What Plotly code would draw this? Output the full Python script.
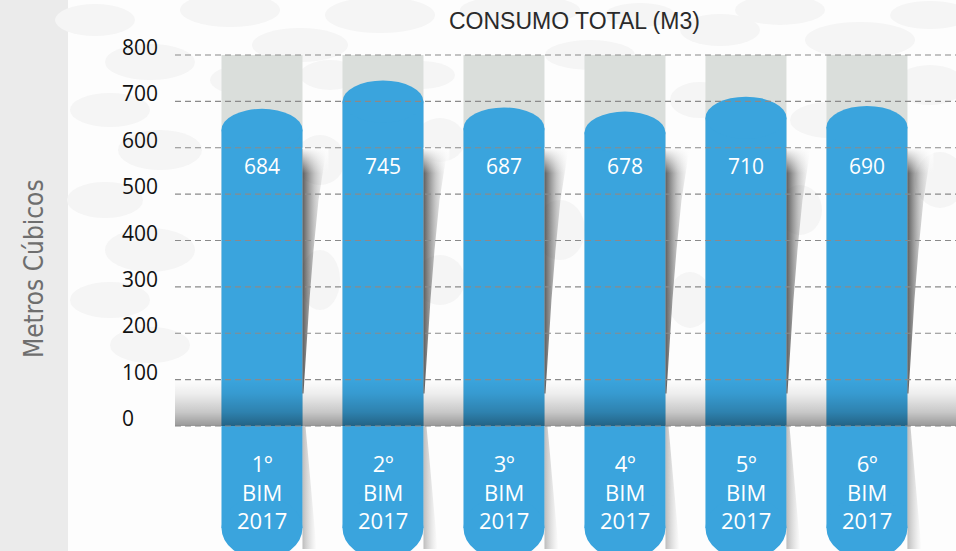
import plotly.graph_objects as go

# ---- data -------------------------------------------------------------
periodos = ["1º", "2º", "3º", "4º", "5º", "6º"]
anio = "2017"
consumo = [684, 745, 687, 678, 710, 690]
escala_max = 800
y_ticks = [0, 100, 200, 300, 400, 500, 600, 700, 800]
y_tick_labels = ["0", "100", "200", "300", "400", "500", "600", "700", "800"]
titulo = "CONSUMO TOTAL (M3)"
titulo_eje_y = "Metros Cúbicos"

# ---- geometry / style -------------------------------------------------
W, H = 956, 551
PLOT_LEFT = 175                      # px where the plotting area starts
X_RANGE = [-0.719, 5.736]
Y_RANGE = [-269.5, 918.6]
PX_X = (W - PLOT_LEFT) / (X_RANGE[1] - X_RANGE[0])   # px per x unit
PX_Y = H / (Y_RANGE[1] - Y_RANGE[0])                 # px per y unit

BLUE = "#3aa4dd"
GREY_COL = "#dadedb"
BG = "#fdfdfd"
BAR_W = 81 / PX_X
TOP_CAP = 21 / PX_Y         # half-height of the rounded top cap (axis units)
BOT_CAP = 31 / PX_Y         # half-height of the rounded bottom cap
BOT_CENTER = -220           # centre of the bottom cap
VALUE_LABEL_Y = 560
CAT_LABEL_Y = -142
SHADOW_TOP = 598

n = len(consumo)
idx = list(range(n))

fig = go.Figure()

# grey full-scale columns behind every bar
fig.add_trace(go.Bar(
    x=idx, y=[escala_max] * n, base=0, width=BAR_W,
    marker=dict(color=GREY_COL, line=dict(width=0)),
    hoverinfo="skip", showlegend=False))

# blue bodies (rounded caps are added as ellipses below)
fig.add_trace(go.Bar(
    x=idx, base=[BOT_CENTER] * n,
    y=[v - TOP_CAP - BOT_CENTER for v in consumo], width=BAR_W,
    marker=dict(color=BLUE, line=dict(width=0)),
    hoverinfo="skip", showlegend=False))

# soft curled shadows to the right of each bar
for i in idx:
    xr = i + BAR_W / 2
    off = [24, 16, 11, 7, 4, 1]
    ys = [SHADOW_TOP, 487, 379, 272, 164, 70]
    fig.add_trace(go.Scatter(
        x=[xr] + [xr + o / PX_X for o in off] + [xr, xr],
        y=[SHADOW_TOP] + ys + [70, SHADOW_TOP],
        mode="lines", fill="toself",
        line=dict(width=0, color="rgba(0,0,0,0)"),
        fillgradient=dict(type="horizontal", start=xr, stop=xr + 24 / PX_X,
                          colorscale=[[0, "rgba(55,55,55,0.8)"],
                                      [0.5, "rgba(100,100,100,0.35)"],
                                      [1, "rgba(150,150,150,0)"]]),
        hoverinfo="skip", showlegend=False))
    # fade the upper edge of the shadow into the background
    fig.add_trace(go.Scatter(
        x=[xr, xr + 26 / PX_X, xr + 26 / PX_X, xr, xr],
        y=[SHADOW_TOP + 2, SHADOW_TOP + 2, 545, 545, SHADOW_TOP + 2],
        mode="lines", fill="toself",
        line=dict(width=0, color="rgba(0,0,0,0)"),
        fillgradient=dict(type="vertical", start=545, stop=SHADOW_TOP + 2,
                          colorscale=[[0, "rgba(253,253,253,0)"],
                                      [1, "rgba(253,253,253,1)"]]),
        hoverinfo="skip", showlegend=False))
    # lower shadow below the zero line
    fig.add_trace(go.Scatter(
        x=[xr, xr + 3 / PX_X, xr + 14 / PX_X, xr, xr],
        y=[0, 0, -265, -265, 0], mode="lines", fill="toself",
        line=dict(width=0, color="rgba(0,0,0,0)"),
        fillgradient=dict(type="horizontal", start=xr, stop=xr + 14 / PX_X,
                          colorscale=[[0, "rgba(70,70,70,0.35)"],
                                      [1, "rgba(130,130,130,0)"]]),
        hoverinfo="skip", showlegend=False))

# shaded "tube" band between 0 and 100
fig.add_trace(go.Scatter(
    x=[X_RANGE[0], X_RANGE[1], X_RANGE[1], X_RANGE[0], X_RANGE[0]],
    y=[0, 0, 100, 100, 0], mode="lines", fill="toself",
    line=dict(width=0, color="rgba(0,0,0,0)"),
    fillgradient=dict(type="vertical", start=0, stop=100,
                      colorscale=[[0, "rgba(0,0,0,0.40)"],
                                  [0.3, "rgba(0,0,0,0.21)"],
                                  [0.7, "rgba(0,0,0,0.06)"],
                                  [1, "rgba(0,0,0,0.0)"]]),
    hoverinfo="skip", showlegend=False))

shapes = []

# left grey strip
shapes.append(dict(type="rect", xref="paper", yref="paper",
                   x0=0, x1=68 / W, y0=0, y1=1,
                   fillcolor="#ebebeb", line=dict(width=0), layer="below"))

# faint bubble texture in the background (pixel centres / radii)
bubbles = [
    (95, 20, 40, 16), (150, 62, 45, 18), (110, 110, 40, 17), (160, 150, 42, 20),
    (105, 200, 38, 18), (150, 250, 45, 22), (110, 300, 40, 18), (150, 345, 40, 18),
    (230, 10, 50, 17), (300, 45, 48, 17), (240, 80, 30, 14), (380, 15, 55, 18),
    (330, 75, 30, 15), (420, 75, 35, 14), (520, 10, 60, 15), (590, 55, 45, 15),
    (640, 15, 35, 12), (720, 30, 40, 16), (780, 10, 45, 15), (860, 40, 55, 18),
    (930, 15, 40, 14), (930, 85, 35, 20), (830, 120, 40, 18), (700, 100, 30, 18),
    (440, 140, 25, 22), (320, 160, 25, 25), (560, 230, 25, 30), (440, 280, 25, 25),
    (800, 210, 22, 25), (940, 180, 25, 28), (690, 300, 22, 28), (320, 280, 20, 30),
]
for cx, cy, rx, ry in bubbles:
    shapes.append(dict(type="circle", xref="paper", yref="paper",
                       x0=(cx - rx) / W, x1=(cx + rx) / W,
                       y0=1 - (cy + ry) / H, y1=1 - (cy - ry) / H,
                       fillcolor="#f5f5f5", line=dict(width=0), layer="below"))

# rounded caps at both ends of every bar
for i, v in zip(idx, consumo):
    shapes.append(dict(type="circle", xref="x", yref="y",
                       x0=i - BAR_W / 2, x1=i + BAR_W / 2,
                       y0=v - 2 * TOP_CAP, y1=v,
                       fillcolor=BLUE, line=dict(width=0), layer="above"))
    shapes.append(dict(type="circle", xref="x", yref="y",
                       x0=i - BAR_W / 2, x1=i + BAR_W / 2,
                       y0=BOT_CENTER - BOT_CAP, y1=BOT_CENTER + BOT_CAP,
                       fillcolor=BLUE, line=dict(width=0), layer="above"))

# dashed gridlines drawn over the bars
for t in y_ticks:
    shapes.append(dict(type="line", xref="paper", yref="y",
                       x0=PLOT_LEFT / W, x1=1, y0=t, y1=t,
                       line=dict(color="#8a8a8a", width=1.2, dash="6px,4px"),
                       layer="above"))

annotations = []

# title
annotations.append(dict(text=titulo, xref="paper", yref="paper",
                        x=574 / W, y=1 - 21 / H, showarrow=False,
                        xanchor="center", yanchor="middle",
                        font=dict(family="Liberation Sans", size=23, color="#2a2a2a")))
# y-axis title
annotations.append(dict(text=titulo_eje_y, xref="paper", yref="paper",
                        x=34 / W, y=1 - 269 / H, showarrow=False, textangle=-90,
                        xanchor="center", yanchor="middle",
                        font=dict(family="DejaVu Sans Condensed, Roboto", size=26,
                                  color="#6e6e6e")))
# tick labels (left aligned)
for t, lab in zip(y_ticks, y_tick_labels):
    annotations.append(dict(text=lab, xref="paper", yref="y", x=120 / W, y=t,
                            yshift=8, showarrow=False, xanchor="left", yanchor="middle",
                            font=dict(family="Open Sans", size=21, color="#111111")))
# value labels inside the bars
for i, v in zip(idx, consumo):
    annotations.append(dict(text=str(v), x=i, y=VALUE_LABEL_Y, xref="x", yref="y",
                            showarrow=False, xanchor="center", yanchor="middle",
                            font=dict(family="Open Sans", size=21, color="white")))
# period labels at the foot of the bars
for i, p in zip(idx, periodos):
    annotations.append(dict(text=f"{p}<br>BIM<br>{anio}", x=i, y=CAT_LABEL_Y,
                            xref="x", yref="y", showarrow=False,
                            xanchor="center", yanchor="middle",
                            font=dict(family="Open Sans", size=22, color="white")))

fig.update_layout(
    width=W, height=H, autosize=False,
    margin=dict(l=0, r=0, t=0, b=0),
    paper_bgcolor=BG, plot_bgcolor="rgba(0,0,0,0)",
    barmode="overlay", showlegend=False,
    xaxis=dict(domain=[PLOT_LEFT / W, 1], range=X_RANGE, visible=False,
               fixedrange=True),
    yaxis=dict(range=Y_RANGE, showgrid=False, zeroline=False,
               showticklabels=False, ticks="", fixedrange=True),
    shapes=shapes, annotations=annotations,
)

fig.write_html("out.html")
